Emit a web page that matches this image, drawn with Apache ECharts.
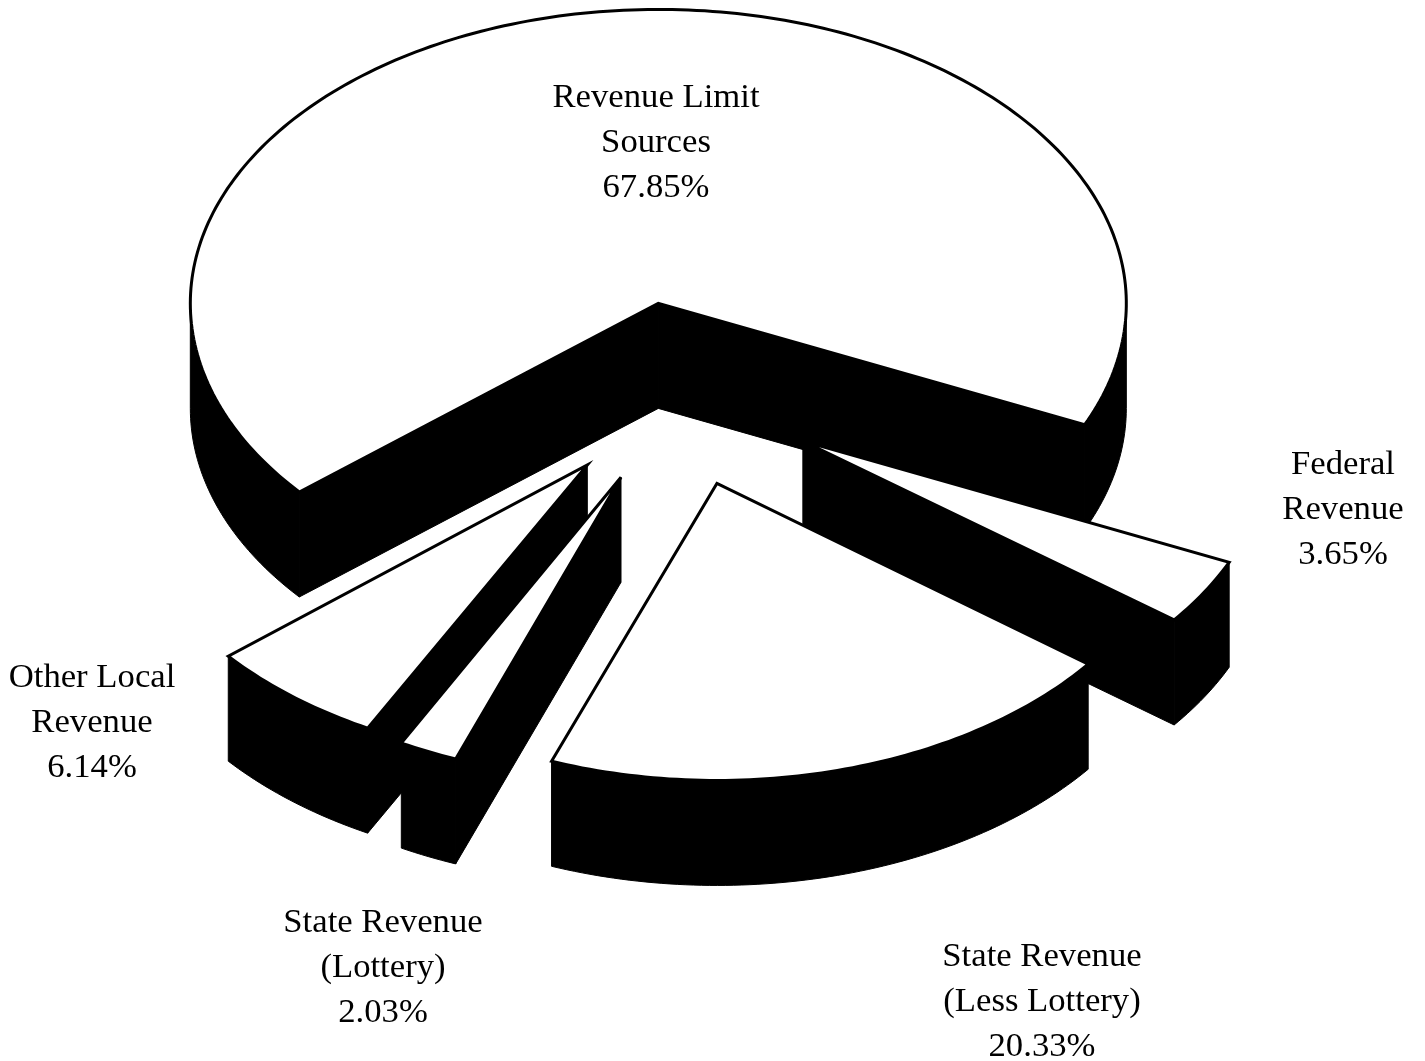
<!DOCTYPE html>
<html>
<head>
<meta charset="utf-8">
<title>Revenue sources</title>
<style>html,body{margin:0;padding:0;background:#fff}#chart{width:1425px;height:1061px}</style>
<script src="https://cdn.jsdelivr.net/npm/echarts@6/dist/echarts.min.js"></script>
</head>
<body>
<div id="chart"></div>
<script>
// Data, clockwise from the largest slice
const categories = ['Revenue Limit\nSources', 'Federal\nRevenue', 'State Revenue\n(Less Lottery)', 'State Revenue\n(Lottery)', 'Other Local\nRevenue'];
const shares = [67.85, 3.65, 20.33, 2.03, 6.14];

// Layout of the tilted, exploded pie
const centerX = 678, centerY = 394, radiusX = 468, depth = 105, explode = 0.311, startAngle = 140.1;
const sliceRadiusY = [294, 294, 297, 301, 298];
const sliceNudge = [[0, 0], [0, 0], [-1, 1.5], [3, 0], [1, 0]];
const labelCenters = [[656, 143], [1343, 510], [1042, 1002], [383, 968], [92, 723]];

const rad = d => d * Math.PI / 180;
const total = shares.reduce((a, b) => a + b, 0);
const starts = shares.map((_, i) => startAngle + shares.slice(0, i).reduce((a, b) => a + b, 0) / total * 360);

function arc(ax, ay, ry, from, to, dy) {
  const pts = [], n = Math.max(2, Math.ceil(to - from));
  for (let i = 0; i <= n; i++) {
    const t = rad(from + (to - from) * i / n);
    pts.push([ax + radiusX * Math.cos(t), ay + ry * Math.sin(t) + dy]);
  }
  return pts;
}

function renderSlice(params, api) {
  const i = params.dataIndex;
  const a = starts[i], b = a + api.value(0) / total * 360, mid = rad((a + b) / 2);
  const ry = sliceRadiusY[i];
  const ax = centerX + explode * radiusX * Math.cos(mid) + sliceNudge[i][0];
  const ay = centerY + explode * 294 * Math.sin(mid) + sliceNudge[i][1];
  const black = { fill: '#000', stroke: '#000', lineWidth: 1 };
  const children = [];
  const z2 = Math.round(ay);
  const poly = (points, style) => children.push({ type: 'polygon', shape: { points }, style, z2 });

  // Cut faces that look towards the viewer
  [a, b].forEach((ang, k) => {
    const c = Math.cos(rad(ang));
    if ((k === 0 && c < 0) || (k === 1 && c > 0)) {
      const tip = arc(ax, ay, ry, ang, ang, 0)[0];
      poly([[ax, ay], tip, [tip[0], tip[1] + depth], [ax, ay + depth]], black);
    }
  });
  // Outer wall: the parts of the rim on the near half of the ellipse
  for (let k = 0; k <= 2; k++) {
    const lo = Math.max(a, k * 360), hi = Math.min(b, k * 360 + 180);
    if (hi > lo) poly(arc(ax, ay, ry, lo, hi, 0).concat(arc(ax, ay, ry, lo, hi, depth).reverse()), black);
  }
  // Top surface
  poly([[ax, ay]].concat(arc(ax, ay, ry, a, b, 0)), { fill: '#fff', stroke: '#000', lineWidth: 3, lineJoin: 'miter' });
  // Label
  const pct = api.value(0).toFixed(2) + '%';
  children.push({
    type: 'text', z2: 1000,
    style: {
      x: labelCenters[i][0], y: labelCenters[i][1],
      text: categories[i] + '\n' + pct,
      fill: '#000', font: '34.7px "Liberation Serif"', lineHeight: 45.3,
      align: 'center', verticalAlign: 'middle'
    }
  });
  return { type: 'group', children };
}

const chart = echarts.init(document.getElementById('chart'), null, { renderer: 'canvas' });
chart.setOption({
  backgroundColor: '#fff',
  animation: false,
  tooltip: { show: false },
  series: [{
    type: 'custom',
    coordinateSystem: 'none',
    silent: true,
    renderItem: renderSlice,
    data: shares.map((v, i) => ({ name: categories[i], value: [v] }))
  }]
});
</script>
</body>
</html>
